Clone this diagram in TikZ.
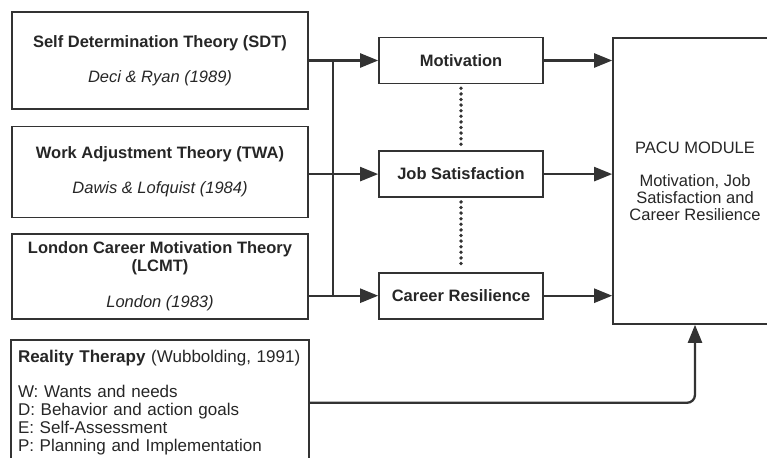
\documentclass[tikz,border=0pt]{standalone}
\usepackage{fontspec}
\setmainfont{Liberation Sans}
\usetikzlibrary{positioning, arrows.meta}
\definecolor{linegray}{HTML}{333333}
\tikzset{
	every node/.append style={
		text=black!85,
		font=\fontsize{16.5}{18}\selectfont,
	},
	theory/.append style={
		draw=linegray,
		line width=1.6pt,
		align = center,
		minimum width=296pt,
		inner sep=2pt,
	},
	factor/.append style={
		draw=linegray,
		line width=1.6pt,
		align = center,
		minimum width=164pt,
		minimum height=46pt,
		font={\fontsize{16.5}{18}\selectfont\bfseries}
	},
	module/.append style={
		draw=linegray,
		line width=1.6pt,
		align = center,
		minimum width=164pt,
		minimum height=286pt,
		font={\fontsize{16.5}{17}\selectfont}
	},
	link/.append style={
		draw=linegray,
		line width=2.3pt,
		-{Triangle[length=18pt,width=14pt]}
	},
	bus/.append style={
		draw=linegray,
		line width=2.3pt,
	},
	dotline/.append style={
		draw=linegray,
		line width=3.8pt,
		line cap=round,
		dash pattern=on 0pt off 5.6pt,
		shorten <=4pt, shorten >=4pt
	}
}

\begin{document}
\begin{tikzpicture}[x=1pt, y=-1pt]
\useasboundingbox (0,0) rectangle (767,457);
\clip (0,0) rectangle (767,457);

% theories on the left
\node(sdt)[theory, minimum height=97pt] at (160,60.5)
	{\textbf{Self Determination Theory (SDT)}\\[17pt]\textit{Deci \& Ryan (1989)}};
\node(twa)[theory, minimum height=91pt, below=16pt of sdt]
	{\textbf{Work Adjustment Theory (TWA)}\\[17pt]\textit{Dawis \& Lofquist (1984)}};
\node(lcmt)[theory, minimum height=85pt, below=15pt of twa]
	{\textbf{London Career Motivation Theory}\\\textbf{(LCMT)}\\[18pt]\textit{London (1983)}};
\node(real)[theory, minimum height=126pt, minimum width=298pt, inner sep=6pt,
	align=left, text width=284pt, font=\fontsize{17}{18}\selectfont, below=19pt of lcmt]
	{\textbf{Reality Therapy} (Wubbolding, 1991)\\[17pt]W: Wants and needs\\D: Behavior and action goals\\E: Self-Assessment\\P: Planning and Implementation};

% outcomes in the middle
\node(mot)[factor] at (461,60.5){Motivation};
\node(js)[factor, below=66pt of mot]{Job Satisfaction};
\node(cr)[factor, below=74pt of js]{Career Resilience};

\node(pacu)[module] at (695,181)
	{PACU MODULE\\[16pt]Motivation, Job\\Satisfaction and\\Career Resilience};

\coordinate(bus) at (333,0);

\draw[bus] (bus |- mot) -- (bus |- cr);
\draw[link] (mot -| sdt.east) -- (mot.west);
\draw[link] (js -| twa.east) -- (js.west);
\draw[link] (cr -| lcmt.east) -- (cr.west);

\draw[link] (mot.east) -- (mot -| pacu.west);
\draw[link] (js.east) -- (js -| pacu.west);
\draw[link] (cr.east) -- (cr -| pacu.west);

\draw[dotline] (mot.south) -- (js.north);
\draw[dotline] (js.south) -- (cr.north);

\draw[link, rounded corners=8pt] (real.east) -| (pacu.south);

\end{tikzpicture}
\end{document}
